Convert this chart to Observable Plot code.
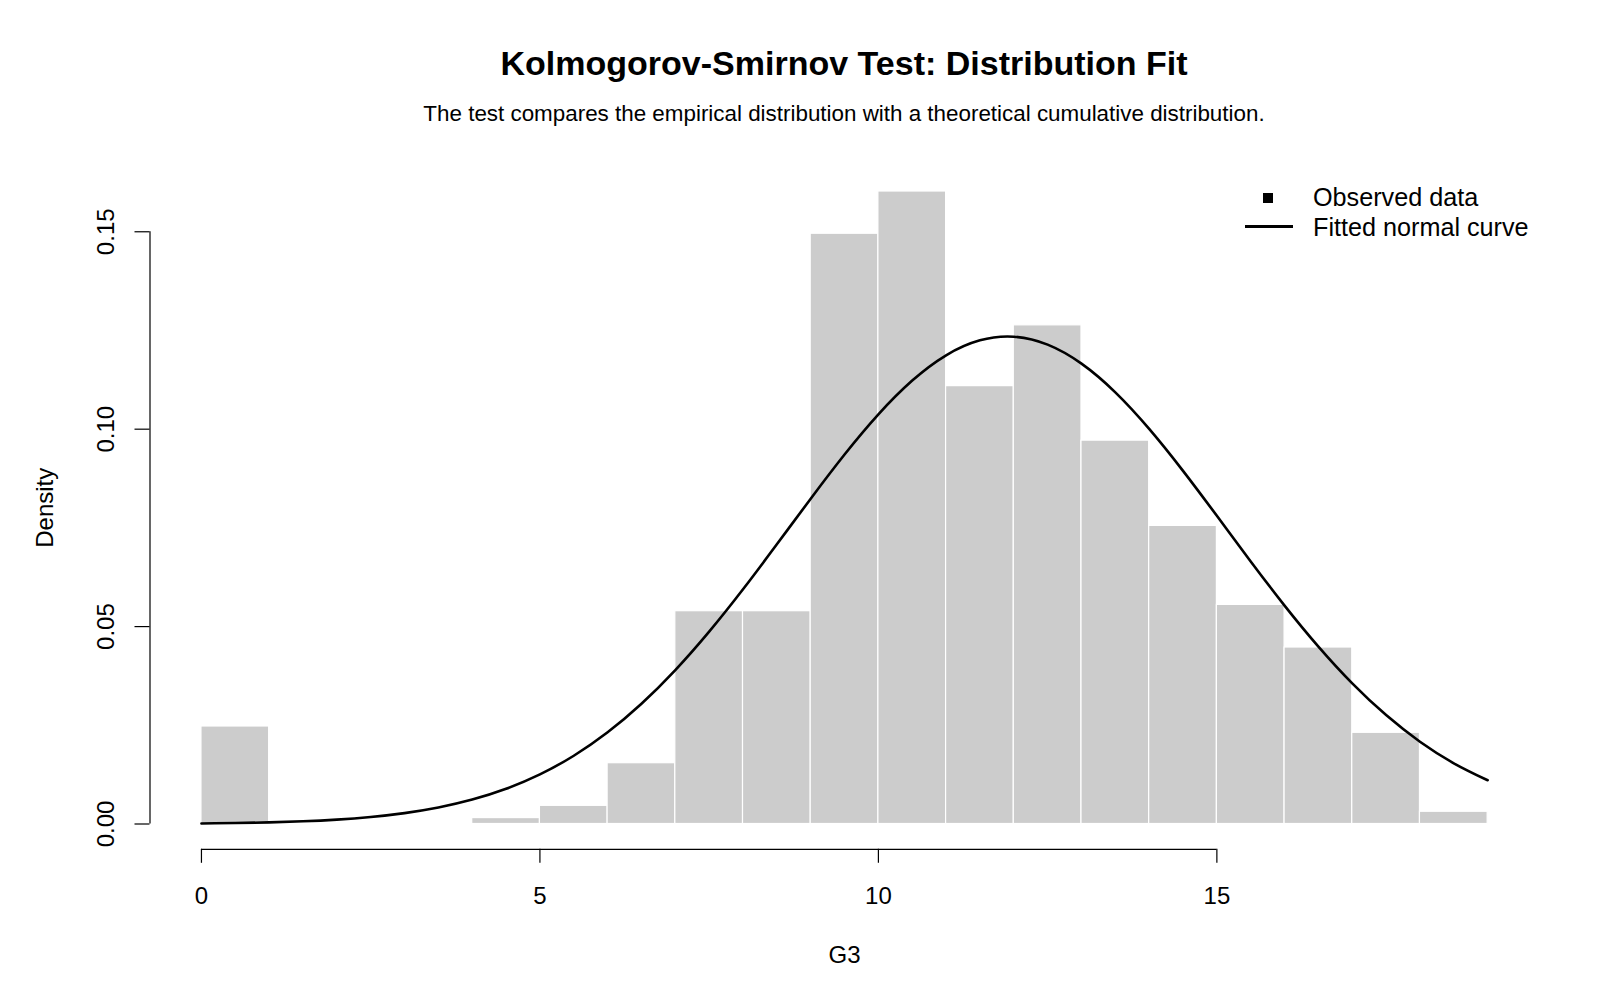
<!DOCTYPE html>
<html>
<head>
<meta charset="utf-8">
<script src="https://cdn.jsdelivr.net/npm/d3@7"></script>
<script src="https://cdn.jsdelivr.net/npm/@observablehq/plot@0.6"></script>
<style>
  html, body { margin: 0; padding: 0; background: #fff; }
  body { font-family: "Liberation Sans", Arial, Helvetica, sans-serif; color: #000; }
  #wrap { position: relative; width: 1600px; height: 1000px; overflow: hidden; }
  #title { position: absolute; left: 0; width: 1688px; top: 46px; text-align: center;
           font-weight: bold; font-size: 34px; line-height: 34px; }
  #subtitle { position: absolute; left: 0; width: 1688px; top: 101px; text-align: center;
              font-size: 22.4px; line-height: 26px; }
  #chart { position: absolute; left: 0; top: 0; }
  #legend { position: absolute; left: 1240px; top: 183px; font-size: 25.2px; }
  .lrow { position: absolute; left: 0; height: 28px; width: 320px; }
  .lrow .sym { position: absolute; }
  .lrow .lab { position: absolute; left: 73px; top: 0; line-height: 28px; white-space: nowrap; }
</style>
</head>
<body>
<div id="wrap">
  <div id="chart"></div>
  <div id="title"></div>
  <div id="subtitle"></div>
  <div id="legend"></div>
</div>
<script>
// ---- Data ----
const titleText = "Kolmogorov-Smirnov Test: Distribution Fit";
const subtitleText = "The test compares the empirical distribution with a theoretical cumulative distribution.";
const xLabel = "G3";
const yLabel = "Density";

// Histogram bin edges (G3, width 1) and bar densities
const binStarts = [0, 1, 2, 3, 4, 5, 6, 7, 8, 9, 10, 11, 12, 13, 14, 15, 16, 17, 18];
const binEnds   = [1, 2, 3, 4, 5, 6, 7, 8, 9, 10, 11, 12, 13, 14, 15, 16, 17, 18, 19];
const densities = [0.0247, 0, 0, 0, 0.0015, 0.0046, 0.0154, 0.0539, 0.0539, 0.1495,
                   0.1602, 0.1109, 0.1263, 0.0971, 0.0755, 0.0555, 0.0447, 0.0231, 0.0031];

// Fitted normal curve, read at half-unit steps
const curveX = [0, 0.5, 1, 1.5, 2, 2.5, 3, 3.5, 4, 4.5, 5, 5.5, 6, 6.5, 7, 7.5, 8, 8.5, 9, 9.5,
                10, 10.5, 11, 11.5, 12, 12.5, 13, 13.5, 14, 14.5, 15, 15.5, 16, 16.5, 17, 17.5, 18, 18.5, 19];
const curveY = [0.00014, 0.00024, 0.00041, 0.00069, 0.00112, 0.00178, 0.00276, 0.00418, 0.00618, 0.00892,
                0.01257, 0.01729, 0.02322, 0.03045, 0.03898, 0.04872, 0.05945, 0.07084, 0.08239, 0.09358,
                0.10376, 0.11232, 0.11872, 0.12251, 0.12343, 0.12141, 0.11660, 0.10933, 0.10008, 0.08945,
                0.07806, 0.06651, 0.05532, 0.04493, 0.03562, 0.02758, 0.02084, 0.01538, 0.01108];

// Axis ticks
const xTicks = [0, 5, 10, 15];
const xTickLabels = ["0", "5", "10", "15"];
const yTicks = [0, 0.05, 0.10, 0.15];
const yTickLabels = ["0.00", "0.05", "0.10", "0.15"];

// Legend
const legendLabels = ["Observed data", "Fitted normal curve"];

// ---- Build ----
const bins = binStarts.map((s, i) => ({x1: s, x2: binEnds[i], d: densities[i]})).filter(b => b.d > 0);
const curve = curveX.map((x, i) => ({x, y: curveY[i]}));

// R-style 4% axis extension
const xMin = d3.min(binStarts), xMax = d3.max(binEnds);
const yMax = Math.max(d3.max(densities), 0);
const xPad = (xMax - xMin) * 0.04, yPad = yMax * 0.04;
const xDomain = [xMin - xPad, xMax + xPad];
const yDomain = [0 - yPad, yMax + yPad];

const W = 1600, H = 1000;
const mL = 149.5, mR = 61.4, mT = 165.7, mB = 151.2;

const chart = Plot.plot({
  width: W, height: H,
  marginLeft: mL, marginRight: mR, marginTop: mT, marginBottom: mB,
  style: { fontFamily: '"Liberation Sans", Arial, sans-serif', fontSize: "24px", background: "transparent", color: "#000", overflow: "visible" },
  x: { domain: xDomain, axis: null },
  y: { domain: yDomain, axis: null },
  marks: [
    Plot.rect(bins, { x1: "x1", x2: "x2", y1: 0, y2: "d", fill: "#cccccc", stroke: "white", strokeWidth: 1.2 }),
    Plot.line(curve, { x: "x", y: "y", stroke: "black", strokeWidth: 2.6, curve: "natural" }),
    // x axis
    Plot.ruleY([yDomain[0]], { x1: xTicks[0], x2: xTicks[xTicks.length - 1], stroke: "black", strokeWidth: 1.2 }),
    Plot.axisX(xTicks, { anchor: "bottom", tickSize: 14, tickFormat: () => "", label: null, stroke: "black", strokeWidth: 1.2, strokeOpacity: 1 }),
    Plot.text(xTicks, { x: d => d, text: (d, i) => xTickLabels[i], frameAnchor: "bottom", dy: 47, lineAnchor: "middle", fill: "black", fontSize: 24 }),
    // y axis
    Plot.ruleX([xDomain[0]], { y1: yTicks[0], y2: yTicks[yTicks.length - 1], stroke: "black", strokeWidth: 1.2 }),
    Plot.axisY(yTicks, { anchor: "left", tickSize: 15, tickFormat: () => "", label: null, stroke: "black", strokeWidth: 1.2, strokeOpacity: 1 }),
    Plot.text(yTicks, { y: d => d, text: (d, i) => yTickLabels[i], frameAnchor: "left", dx: -44, rotate: -90, lineAnchor: "middle", textAnchor: "middle", fill: "black", fontSize: 24 }),
    // axis titles
    Plot.text([xLabel], { text: d => d, frameAnchor: "bottom", dy: 106, lineAnchor: "middle", fill: "black", fontSize: 24 }),
    Plot.text([yLabel], { text: d => d, frameAnchor: "left", dx: -105, rotate: -90, lineAnchor: "middle", textAnchor: "middle", fill: "black", fontSize: 24 })
  ]
});
document.getElementById("chart").appendChild(chart);
document.getElementById("title").textContent = titleText;
document.getElementById("subtitle").textContent = subtitleText;

// Legend (HTML)
const leg = document.getElementById("legend");
legendLabels.forEach((lab, i) => {
  const row = document.createElement("div");
  row.className = "lrow";
  row.style.top = (i * 30) + "px";
  const sym = document.createElement("div");
  sym.className = "sym";
  if (i === 0) {
    sym.style.cssText = "left:23px;top:10px;width:10px;height:10px;background:#000;";
  } else {
    sym.style.cssText = "left:5px;top:12px;width:48px;height:2.6px;background:#000;";
  }
  const t = document.createElement("div");
  t.className = "lab";
  t.textContent = lab;
  row.appendChild(sym);
  row.appendChild(t);
  leg.appendChild(row);
});
</script>
</body>
</html>
